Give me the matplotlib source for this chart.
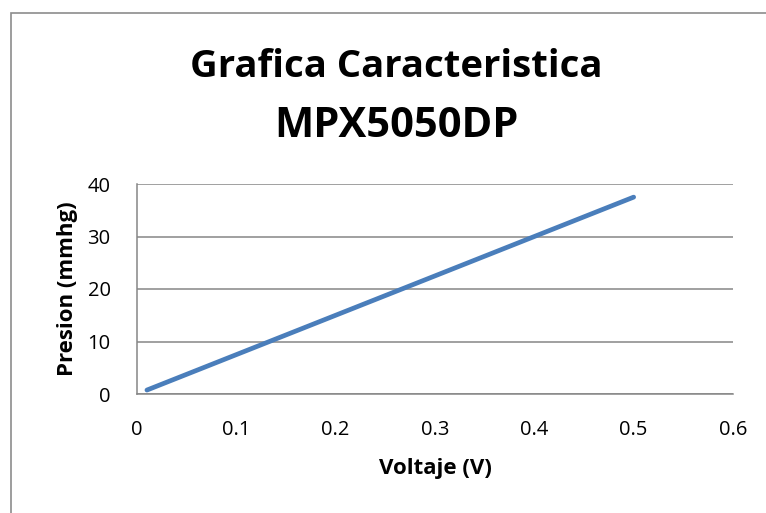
import matplotlib
matplotlib.use("Agg")
import matplotlib.pyplot as plt
from matplotlib.patches import Rectangle

# Sensor characteristic: output voltage vs. differential pressure
voltaje = [0.01, 0.1, 0.2, 0.3, 0.4, 0.5]
presion = [0.75, 7.5, 15.0, 22.5, 30.0, 37.5]
x_ticks = [0, 0.1, 0.2, 0.3, 0.4, 0.5, 0.6]
y_ticks = [0, 10, 20, 30, 40]

plt.rcParams['font.family'] = ['Open Sans', 'DejaVu Sans']

W, H = 766, 513
fig = plt.figure(figsize=(W / 100, H / 100), dpi=100)

# Chart-area frame
fig.patches.append(Rectangle((11 / W, -0.01), 1.05, 1 - 13 / H + 0.01,
                             transform=fig.transFigure, fill=False,
                             edgecolor='#8c8c8c', linewidth=1.2))

ax = fig.add_axes([137 / W, 1 - 394 / H, (733 - 137) / W, (394 - 184) / H])
ax.plot(voltaje, presion, color='#4a7ebb', linewidth=3.4,
        solid_capstyle='round')

ax.set_xlim(0, 0.6)
ax.set_ylim(0, 40)
ax.set_xticks(x_ticks)
ax.set_xticklabels([f"{t:g}" for t in x_ticks])
ax.set_yticks(y_ticks)
ax.set_yticklabels([str(t) for t in y_ticks])
ax.tick_params(length=0, labelsize=14.5, colors='black')
ax.tick_params(axis='x', pad=19)
ax.tick_params(axis='y', pad=19)

ax.grid(axis='y', color='#868686', linewidth=1.1)
ax.set_axisbelow(True)
for side in ('top', 'right'):
    ax.spines[side].set_visible(False)
for side in ('left', 'bottom'):
    ax.spines[side].set_color('#868686')
    ax.spines[side].set_linewidth(1.1)

ax.set_xlabel('Voltaje (V)', fontsize=16, fontweight='bold', labelpad=13)
ax.set_ylabel('Presion (mmhg)', fontsize=16, fontweight='bold', labelpad=7)

fig.text(396 / W, 1 - 77 / H, 'Grafica Caracteristica', ha='center',
         va='baseline', fontsize=27.5, fontweight='bold')
fig.text(396 / W, 1 - 137 / H, 'MPX5050DP', ha='center',
         va='baseline', fontsize=30, fontweight='bold')

fig.savefig('out.png', dpi=100)
